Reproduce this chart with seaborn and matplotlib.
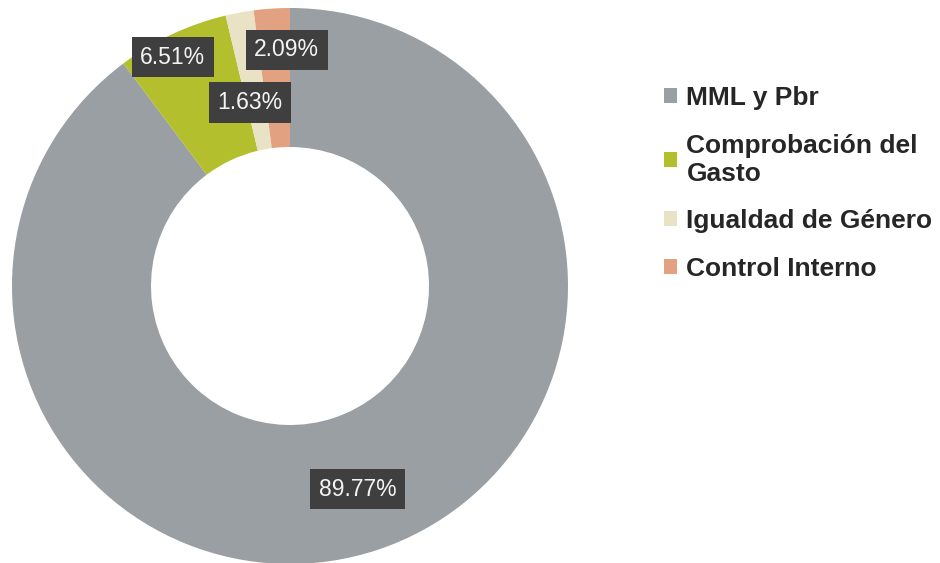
import matplotlib
matplotlib.use("Agg")
import matplotlib.pyplot as plt
import seaborn as sns
import numpy as np

categories = ["MML y Pbr", "Comprobación del\nGasto", "Igualdad de Género", "Control Interno"]
shares = [89.77, 6.51, 1.63, 2.09]
value_labels = ["89.77%", "6.51%", "1.63%", "2.09%"]

colors = ["#9a9fa3", "#b3bf2c", "#e9e2c4", "#e2a282"]
# placement of each value box: fraction of outer radius, angle nudge (deg)
label_radius = [0.77, 0.925, 0.675, 0.85]
label_shift = [0, 2, 1.8, -3]


def main():
    sns.set_theme(style="white")
    plt.rcParams['font.family'] = ['Liberation Sans', 'DejaVu Sans']

    fig = plt.figure(figsize=(9.4, 5.63), dpi=100)
    # donut centre ~ (290, 286) px, radius ~ 278 px
    ax = fig.add_axes([12 / 940, -1 / 563, 556 / 940, 556 / 563])

    wedges, _ = ax.pie(shares, colors=colors, startangle=90, counterclock=False,
                       radius=1, wedgeprops=dict(width=0.5, edgecolor='none', linewidth=0))
    ax.set_xlim(-1, 1)
    ax.set_ylim(-1, 1)
    ax.set_aspect('equal')
    ax.axis('off')

    for w, lab, r, d in zip(wedges, value_labels, label_radius, label_shift):
        ang = np.deg2rad((w.theta1 + w.theta2) / 2 + d)
        ax.text(r * np.cos(ang), r * np.sin(ang), lab, color='#f4f4f4', fontsize=16.5,
                ha='center', va='center',
                bbox=dict(boxstyle='square,pad=0.38', facecolor='#3f3f3f', edgecolor='none'))

    fig.legend(wedges, categories, loc='upper left', bbox_to_anchor=(664 / 940, 1 - 86 / 563),
               frameon=False, prop=dict(size=19, weight='bold'), handlelength=0.5,
               handleheight=0.5, handletextpad=0.35, labelspacing=0.9, borderpad=0,
               borderaxespad=0)

    fig.savefig("out.png", dpi=100, facecolor='white')


if __name__ == "__main__":
    main()
